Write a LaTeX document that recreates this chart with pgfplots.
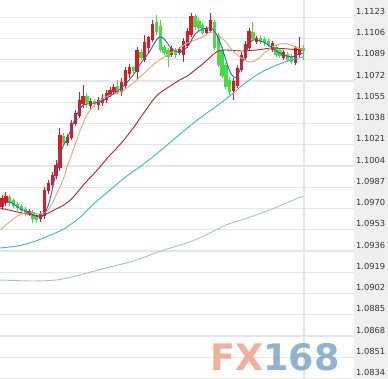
\documentclass[border=0pt]{standalone}
\usepackage{pgfplots}
\pgfplotsset{compat=1.18}
\usepackage{pgfplotstable}
\usepackage{fontspec}
\setmainfont{DejaVu Sans}
\definecolor{candlered}{HTML}{E2181B}
\definecolor{candlegreen}{HTML}{44DD44}
\definecolor{mablue}{HTML}{2F5FC4}
\definecolor{maorange}{HTML}{E2A878}
\definecolor{madred}{HTML}{B5231E}
\definecolor{macyan}{HTML}{3DB7CF}
\definecolor{magray}{HTML}{A6C2CF}
\definecolor{gridgray}{HTML}{E6E6E6}
\definecolor{panelgray}{HTML}{EFEFEF}
\definecolor{labelgray}{HTML}{333333}
\definecolor{fxorange}{HTML}{F2A386}
\definecolor{fxblue}{HTML}{7EA6C6}

\pgfplotstableread{
x o h l c
0 1.09712 1.09808 1.09688 1.09784
1 1.09744 1.09832 1.09720 1.09800
7 1.09656 1.09696 1.09640 1.09680
10 1.09616 1.09680 1.09592 1.09656
11 1.09640 1.09872 1.09616 1.09848
12 1.09840 1.09928 1.09816 1.09904
13 1.09888 1.09992 1.09864 1.09968
14 1.09960 1.10088 1.09936 1.10048
15 1.10024 1.10344 1.10000 1.10288
17 1.10224 1.10296 1.10200 1.10272
18 1.10264 1.10408 1.10248 1.10384
19 1.10376 1.10488 1.10360 1.10464
20 1.10440 1.10632 1.10424 1.10568
21 1.10536 1.10688 1.10504 1.10600
23 1.10520 1.10584 1.10488 1.10560
25 1.10528 1.10592 1.10488 1.10568
26 1.10544 1.10616 1.10520 1.10584
27 1.10568 1.10648 1.10544 1.10624
28 1.10608 1.10672 1.10592 1.10648
29 1.10632 1.10696 1.10608 1.10672
31 1.10632 1.10744 1.10600 1.10712
32 1.10680 1.10832 1.10664 1.10808
33 1.10776 1.10856 1.10744 1.10832
35 1.10792 1.10992 1.10728 1.10968
37 1.10888 1.11088 1.10872 1.11032
38 1.10984 1.11080 1.10944 1.11072
39 1.11048 1.11208 1.11032 1.11176
44 1.10928 1.11000 1.10912 1.10984
46 1.10944 1.10992 1.10928 1.10976
47 1.10928 1.11064 1.10872 1.11040
48 1.11000 1.11144 1.10984 1.11120
49 1.11088 1.11264 1.11072 1.11240
53 1.11104 1.11160 1.11088 1.11144
54 1.11120 1.11264 1.11104 1.11208
60 1.10640 1.10744 1.10568 1.10720
61 1.10680 1.10848 1.10664 1.10824
62 1.10808 1.10952 1.10792 1.10928
63 1.10904 1.11040 1.10888 1.11016
64 1.10984 1.11144 1.10968 1.11120
66 1.11032 1.11080 1.11016 1.11064
70 1.10968 1.11040 1.10952 1.11024
73 1.10904 1.10968 1.10888 1.10952
76 1.10864 1.11000 1.10848 1.10984
77 1.10928 1.11072 1.10912 1.10984
}\upcandles

\pgfplotstableread{
x o h l c
2 1.09792 1.09808 1.09720 1.09744
3 1.09768 1.09784 1.09704 1.09720
4 1.09736 1.09752 1.09680 1.09704
5 1.09720 1.09736 1.09664 1.09680
6 1.09696 1.09712 1.09640 1.09664
8 1.09672 1.09688 1.09584 1.09616
9 1.09648 1.09664 1.09584 1.09608
16 1.10280 1.10304 1.10200 1.10224
22 1.10600 1.10624 1.10504 1.10544
24 1.10560 1.10576 1.10512 1.10536
30 1.10680 1.10728 1.10608 1.10632
34 1.10832 1.10840 1.10784 1.10800
36 1.10952 1.10976 1.10888 1.10904
40 1.11192 1.11248 1.11088 1.11112
41 1.11160 1.11208 1.10952 1.10968
42 1.10992 1.11008 1.10928 1.10944
43 1.10968 1.10984 1.10832 1.10912
45 1.10968 1.10984 1.10904 1.10928
50 1.11240 1.11256 1.11128 1.11152
51 1.11200 1.11224 1.11120 1.11144
52 1.11168 1.11184 1.11088 1.11104
55 1.11192 1.11208 1.10968 1.10984
56 1.11088 1.11104 1.10832 1.10848
57 1.10968 1.10992 1.10744 1.10760
58 1.10848 1.10864 1.10656 1.10672
59 1.10728 1.10752 1.10608 1.10632
65 1.11112 1.11192 1.11040 1.11056
67 1.11064 1.11088 1.11016 1.11032
68 1.11056 1.11072 1.11000 1.11024
69 1.11040 1.11064 1.10992 1.11008
71 1.10992 1.11008 1.10912 1.10928
72 1.10968 1.10984 1.10904 1.10920
74 1.10936 1.10952 1.10872 1.10888
75 1.10920 1.10936 1.10856 1.10872
78 1.10984 1.11008 1.10888 1.10960
}\downcandles

\begin{document}
\begin{tikzpicture}
\useasboundingbox (0,0) rectangle (388pt,379pt);
\fill[white] (0,0) rectangle (354pt,379pt);
\fill[panelgray] (354pt,0) rectangle (388pt,379pt);
\begin{axis}[
  at={(0,0)}, anchor=south west,
  scale only axis, width=354pt, height=379pt,
  xmin=-0.518, xmax=91.19,
  ymin=1.08336, ymax=1.11368,
  axis line style={draw=none},
  tick style={draw=none},
  major tick length=0pt,
  xtick={78.25}, xticklabels={}, xmajorgrids,
  ytick={1.0834,1.0851,1.0868,1.0885,1.0902,1.0919,1.0936,1.0953,1.0970,1.0987,1.1004,1.1021,1.1038,1.1055,1.1072,1.1089,1.1106,1.1123},
  ymajorgrids,
  grid style={color=gridgray, line width=1.3pt},
  yticklabel pos=right,
  scaled y ticks=false,
  yticklabel={\pgfmathprintnumber[fixed,fixed zerofill,precision=4,assume math mode=true]{\tick}},
  yticklabel style={anchor=west, inner sep=0pt, xshift=2pt, yshift=6pt, font=\fontsize{8.3}{10}\selectfont, text=labelgray},
]
% up candles (red)
\addplot[draw=none, mark=none, forget plot,
  error bars/.cd, y dir=plus, y explicit, error mark=none,
  error bar style={draw=candlered, line width=0.9pt}]
  table[x=x, y=l, y error plus expr=\thisrow{h}-\thisrow{l}] {\upcandles};
\addplot[draw=none, mark=none, forget plot,
  error bars/.cd, y dir=plus, y explicit, error mark=none,
  error bar style={draw=candlered, line width=3.3pt}]
  table[x=x, y=o, y error plus expr=\thisrow{c}-\thisrow{o}] {\upcandles};
% down candles (green)
\addplot[draw=none, mark=none, forget plot,
  error bars/.cd, y dir=plus, y explicit, error mark=none,
  error bar style={draw=candlegreen, line width=0.9pt}]
  table[x=x, y=l, y error plus expr=\thisrow{h}-\thisrow{l}] {\downcandles};
\addplot[draw=none, mark=none, forget plot,
  error bars/.cd, y dir=plus, y explicit, error mark=none,
  error bar style={draw=candlegreen, line width=3.3pt}]
  table[x=x, y=c, y error plus expr=\thisrow{o}-\thisrow{c}] {\downcandles};
% moving averages
\addplot[magray, line width=0.9pt, smooth, mark=none] coordinates {
(-0.5,1.09128)(8,1.09120)(14,1.09128)(18,1.09152)(26,1.09216)(34,1.09280)(42,1.09368)(50,1.09448)(58,1.09568)(62,1.09608)(70,1.09696)(78,1.09800)};
\addplot[macyan, line width=0.9pt, smooth, mark=none] coordinates {
(-0.5,1.09384)(4,1.09400)(8,1.09432)(12,1.09480)(16,1.09536)(20,1.09624)(24,1.09744)(28,1.09848)(32,1.09952)(36,1.10040)(40,1.10136)(44,1.10240)(48,1.10344)(52,1.10440)(56,1.10528)(60,1.10624)(62,1.10680)(66,1.10768)(70,1.10832)(74,1.10880)(78,1.10912)};
\addplot[madred, line width=0.9pt, smooth, mark=none] coordinates {
(-0.5,1.09704)(4,1.09672)(8,1.09648)(10,1.09640)(12,1.09664)(14,1.09696)(16,1.09728)(18,1.09776)(20,1.09848)(22,1.09920)(24,1.09984)(26,1.10056)(28,1.10128)(30,1.10192)(32,1.10264)(34,1.10344)(36,1.10432)(38,1.10520)(40,1.10600)(42,1.10648)(44,1.10688)(46,1.10728)(48,1.10760)(50,1.10808)(52,1.10856)(54,1.10912)(56,1.10960)(58,1.10968)(62,1.10960)(66,1.10968)(70,1.10984)(74,1.10976)(78,1.10968)};
\addplot[maorange, line width=0.9pt, smooth, mark=none] coordinates {
(-0.5,1.09528)(2,1.09592)(4,1.09640)(6,1.09664)(8,1.09664)(10,1.09656)(12,1.09688)(14,1.09808)(16,1.09944)(17,1.10048)(18,1.10128)(20,1.10304)(22,1.10448)(24,1.10528)(26,1.10576)(28,1.10608)(30,1.10624)(32,1.10656)(34,1.10704)(36,1.10760)(38,1.10816)(40,1.10872)(42,1.10912)(44,1.10952)(46,1.10984)(48,1.11024)(50,1.11048)(52,1.11072)(54,1.11112)(56,1.11088)(58,1.11032)(60,1.10952)(62,1.10904)(64,1.10872)(66,1.10888)(68,1.10944)(70,1.10992)(72,1.11016)(74,1.11016)(76,1.10992)(78,1.10968)};
\addplot[mablue, line width=0.9pt, smooth, mark=none] coordinates {
(-0.5,1.09728)(2,1.09752)(4,1.09712)(6,1.09680)(8,1.09648)(10,1.09632)(11,1.09656)(12,1.09728)(13,1.09848)(14,1.09992)(15,1.10128)(16,1.10208)(17,1.10264)(18,1.10344)(19,1.10424)(20,1.10488)(21,1.10528)(22,1.10536)(24,1.10544)(26,1.10560)(28,1.10600)(30,1.10640)(32,1.10696)(34,1.10768)(36,1.10864)(38,1.10944)(40,1.11048)(41,1.11072)(42,1.11056)(43,1.11016)(44,1.10976)(46,1.10952)(48,1.10992)(49,1.11040)(50,1.11096)(52,1.11136)(54,1.11144)(55,1.11120)(56,1.11064)(57,1.10984)(58,1.10888)(59,1.10800)(60,1.10752)(61,1.10760)(62,1.10840)(63,1.10928)(64,1.11008)(65,1.11048)(67,1.11040)(69,1.11008)(71,1.10960)(73,1.10928)(75,1.10912)(77,1.10936)(78,1.10944)};
\end{axis}
\node[anchor=base west, inner sep=0pt, font=\fontsize{36.5}{37}\selectfont\bfseries, opacity=0.85] at (210pt,8pt) {\textcolor{fxorange}{FX}\textcolor{fxblue}{168}};
\end{tikzpicture}
\end{document}
